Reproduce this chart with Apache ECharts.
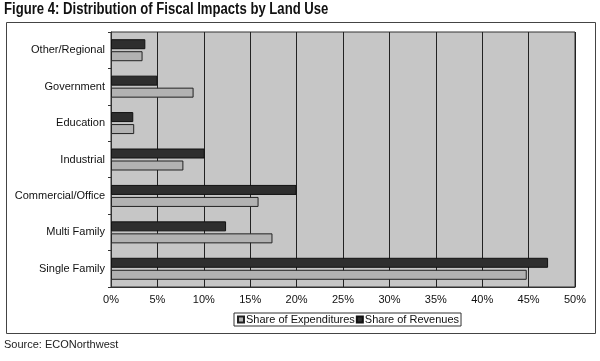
<!DOCTYPE html>
<html><head><meta charset="utf-8">
<script src="https://cdn.jsdelivr.net/npm/echarts@6/dist/echarts.min.js"></script>
<style>html,body{margin:0;padding:0;background:#fff}#c{width:600px;height:361px}</style>
</head><body><div id="c"></div>
<script>
const categories = ['Other/Regional','Government','Education','Industrial','Commercial/Office','Multi Family','Single Family'];
const revenues = [3.7, 5.0, 2.4, 10.1, 20.0, 12.4, 47.1];
const expenditures = [3.4, 8.9, 2.5, 7.8, 15.9, 17.4, 44.8];
const xTicks = [0,5,10,15,20,25,30,35,40,45,50];

const chart = echarts.init(document.getElementById('c'));
const font = 'Liberation Sans, Arial, sans-serif';
chart.setOption({
  animation: false,
  backgroundColor: '#fff',
  graphic: [
    {type: 'text', x: 4, y: 2, scaleX: 0.82, style: {text: 'Figure 4: Distribution of Fiscal Impacts by Land Use', font: 'bold 16px ' + font, fill: '#111'}},
    {type: 'rect', shape: {x: 6.5, y: 22.5, width: 589, height: 311}, style: {fill: null, stroke: '#444', lineWidth: 1}, z: -1},
    {type: 'text', left: 4, top: 339, style: {text: 'Source: ECONorthwest', font: '11px ' + font, fill: '#222'}}
  ],
  legend: {
    data: ['Share of Expenditures', 'Share of Revenues'],
    left: 234, top: 313,
    itemWidth: 6, itemHeight: 6, itemGap: 1,
    icon: 'rect',
    borderColor: '#333', borderWidth: 1, padding: [1, 2, 1, 3],
    textStyle: {fontFamily: font, fontSize: 11, color: '#111', padding: [0, 0, 0, -3]}
  },
  grid: {left: 111, right: 25, top: 32, bottom: 74, show: true, backgroundColor: '#c6c6c6', borderColor: '#333', borderWidth: 1},
  xAxis: {
    type: 'value', min: 0, max: 50, interval: 5,
    axisLabel: {formatter: v => xTicks.includes(v) ? v + '%' : '', fontFamily: font, fontSize: 11, color: '#111', margin: 7},
    axisLine: {show: true, lineStyle: {color: '#333'}},
    axisTick: {show: false},
    splitLine: {show: true, lineStyle: {color: '#222', width: 1}}
  },
  yAxis: {
    type: 'category', data: categories, inverse: true,
    axisLabel: {fontFamily: font, fontSize: 11, color: '#111', margin: 6},
    axisLine: {show: true, lineStyle: {color: '#333'}},
    axisTick: {show: true, length: 3, lineStyle: {color: '#333'}}
  },
  series: [
    {name: 'Share of Revenues', type: 'bar', data: revenues, barWidth: 10, barGap: '20%',
     itemStyle: {color: '#2e2e2e', borderColor: '#111', borderWidth: 1}},
    {name: 'Share of Expenditures', type: 'bar', data: expenditures, barWidth: 10, barGap: '20%',
     itemStyle: {color: '#b2b2b2', borderColor: '#222', borderWidth: 1}}
  ]
});
</script></body></html>
